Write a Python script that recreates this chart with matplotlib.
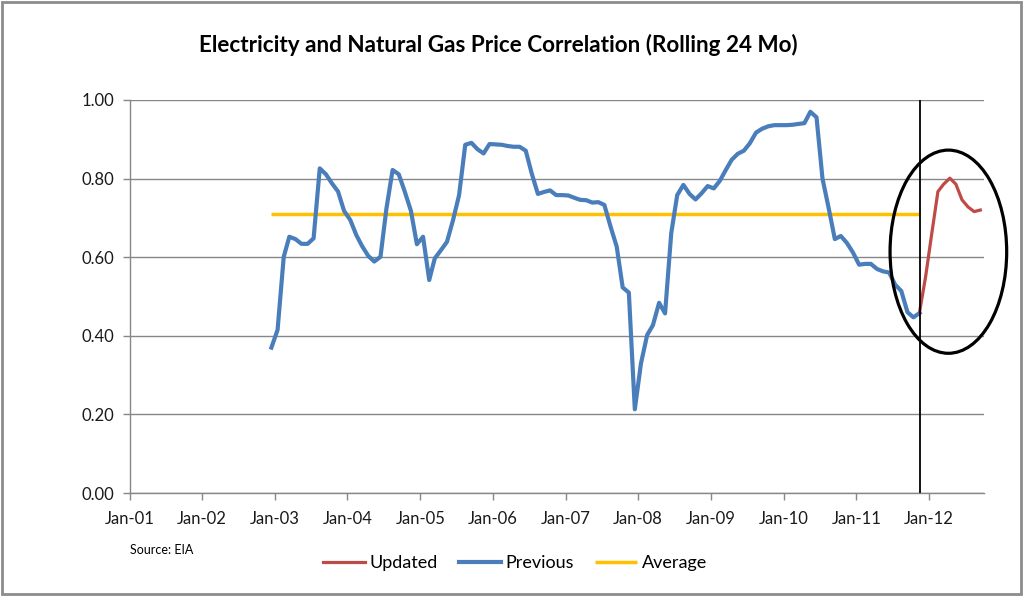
import matplotlib
matplotlib.use("Agg")
import matplotlib.pyplot as plt
import matplotlib.dates as mdates
from matplotlib.patches import Ellipse, Rectangle
import pandas as pd
import numpy as np

# ---------------- data ----------------
title = "Electricity and Natural Gas Price Correlation (Rolling 24 Mo)"
tick_years = ["2001", "2002", "2003", "2004", "2005", "2006",
              "2007", "2008", "2009", "2010", "2011", "2012"]

previous_start = "2002-12"
previous_values = [
    0.370, 0.415, 0.601, 0.652, 0.646, 0.634, 0.634, 0.648, 0.826, 0.811,
    0.788, 0.767, 0.718, 0.695, 0.656, 0.628, 0.603, 0.589, 0.601, 0.724,
    0.822, 0.811, 0.767, 0.718, 0.633, 0.652, 0.542, 0.597, 0.618, 0.639,
    0.695, 0.758, 0.886, 0.891, 0.875, 0.864, 0.888, 0.887, 0.886, 0.883,
    0.881, 0.881, 0.871, 0.813, 0.761, 0.766, 0.770, 0.758, 0.758, 0.757,
    0.751, 0.746, 0.745, 0.739, 0.740, 0.733, 0.678, 0.627, 0.523, 0.510,
    0.213, 0.330, 0.402, 0.427, 0.484, 0.457, 0.661, 0.758, 0.784, 0.761,
    0.747, 0.763, 0.781, 0.775, 0.795, 0.821, 0.848, 0.863, 0.871, 0.890,
    0.917, 0.927, 0.933, 0.936, 0.936, 0.936, 0.937, 0.939, 0.941, 0.970,
    0.956, 0.800, 0.725, 0.646, 0.654, 0.636, 0.612, 0.581, 0.583, 0.583,
    0.570, 0.564, 0.561, 0.530, 0.514, 0.460, 0.447, 0.458,
]

updated_start = "2011-11"
updated_values = [0.461, 0.550, 0.660, 0.767, 0.786, 0.801, 0.786, 0.746,
                  0.728, 0.716, 0.720]

average_value = 0.709

# ---------------- dates ----------------
prev_dates = pd.date_range(previous_start, periods=len(previous_values), freq="MS") + pd.Timedelta(days=14)
upd_dates = pd.date_range(updated_start, periods=len(updated_values), freq="MS") + pd.Timedelta(days=14)
tick_dates = pd.to_datetime([y + "-01-01" for y in tick_years])

# ---------------- style ----------------
plt.rcParams["font.family"] = ["Lato", "DejaVu Sans"]
BLUE = "#4A7EBB"
RED = "#BE4B48"
YELLOW = "#FFC000"
GRID = "#878787"

fig = plt.figure(figsize=(10.24, 5.96), dpi=100)
ax = fig.add_axes([129.5 / 1024, 1 - 493 / 596, (983.5 - 129.5) / 1024, 393 / 596])

ax.plot(prev_dates, [average_value] * len(prev_dates), color=YELLOW, lw=2.5,
        solid_capstyle="butt", label="Average", zorder=2)
ax.plot(prev_dates, previous_values, color=BLUE, lw=3.0, label="Previous",
        solid_joinstyle="round", zorder=3)
ax.plot(upd_dates, updated_values, color=RED, lw=2.3, label="Updated",
        solid_joinstyle="round", zorder=4)

ax.axvline(prev_dates[-1], color="black", lw=1.3, zorder=5)

# ellipse highlighting the updated series
cx = mdates.date2num(upd_dates[0]) + (mdates.date2num(upd_dates[-1]) - mdates.date2num(upd_dates[0])) / 2 - 8
ell = Ellipse((cx, 0.614), width=586, height=0.517, fill=False,
              edgecolor="black", lw=2.3, clip_on=False, zorder=6)
ax.add_patch(ell)

ax.set_ylim(0, 1.0)
ax.set_xlim(pd.Timestamp("2001-01-01"), pd.Timestamp("2012-10-01"))
ax.set_yticks(np.arange(0, 1.01, 0.2))
ax.set_yticklabels([f"{v:.2f}" for v in np.arange(0, 1.01, 0.2)])
ax.set_xticks(tick_dates)
ax.set_xticklabels([d.strftime("%b-%y") for d in tick_dates])

ax.yaxis.grid(True, color=GRID, lw=1.0)
ax.set_axisbelow(True)
for s in ["top", "right"]:
    ax.spines[s].set_visible(False)
for s in ["left", "bottom"]:
    ax.spines[s].set_color(GRID)
    ax.spines[s].set_linewidth(1.0)
ax.tick_params(axis="both", colors=GRID, length=5, width=1.0, labelsize=12,
               labelcolor="#1a1a1a")
ax.tick_params(axis="x", pad=8)
ax.tick_params(axis="y", pad=6)

fig.text(498 / 1024, 1 - 45 / 596, title, ha="center", va="center",
         fontsize=16.2, fontweight="bold", color="black")
fig.text(130 / 1024, 1 - 550 / 596, "Source: EIA", ha="left", va="center",
         fontsize=9, color="black")

handles, labels = ax.get_legend_handles_labels()
order = [2, 1, 0]
fig.legend([handles[i] for i in order], [labels[i] for i in order],
           loc="center", bbox_to_anchor=(515 / 1024, 1 - 563 / 596), ncol=3,
           frameon=False, fontsize=13, handlelength=2.3, handletextpad=0.25,
           columnspacing=1.2)

fig.add_artist(Rectangle((2 / 1024, 2 / 596), 1019 / 1024, 592 / 596,
                         transform=fig.transFigure, fill=False,
                         edgecolor="#8c8c8c", lw=2))

fig.savefig("out.png", dpi=100)
